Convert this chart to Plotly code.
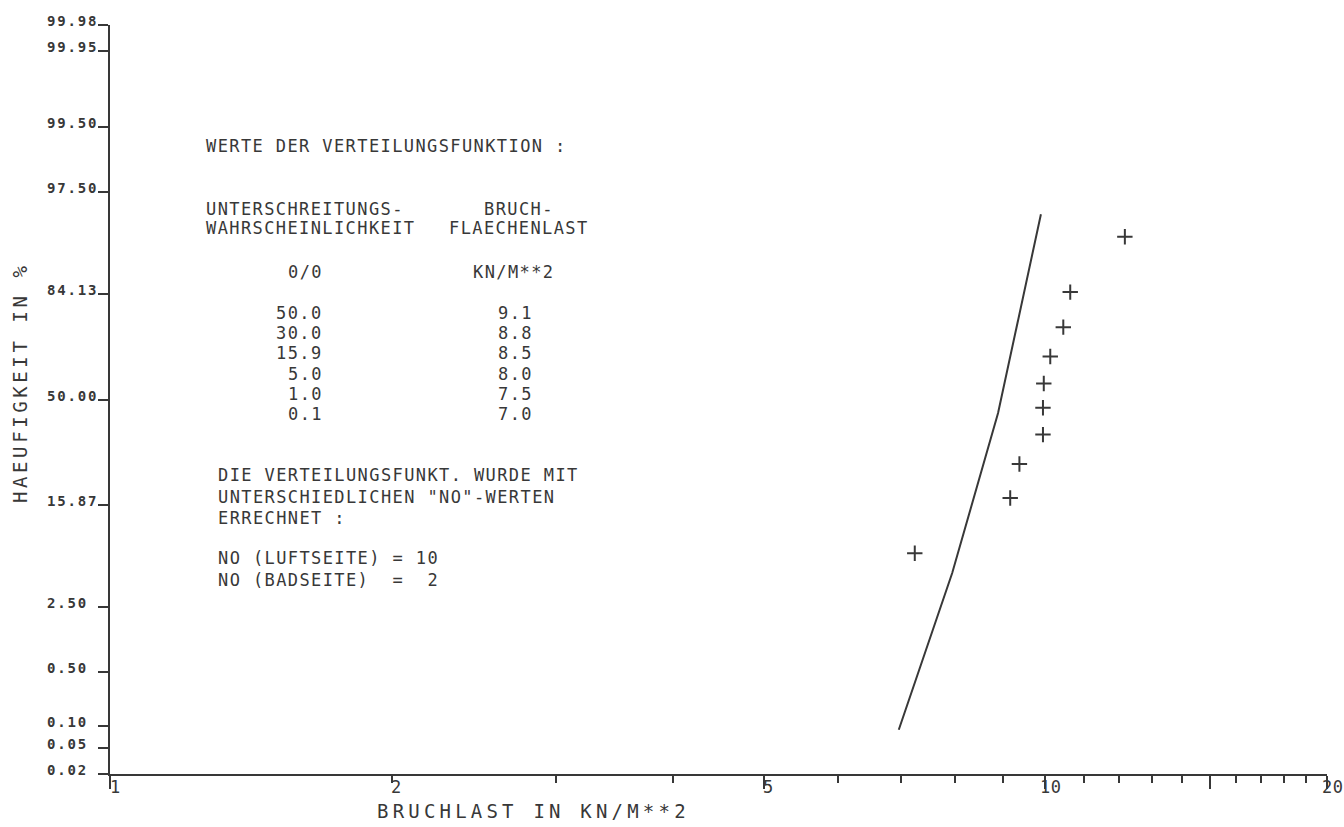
import math
from statistics import NormalDist
import plotly.graph_objects as go

# ---------------- data ----------------
# fitted distribution line (Bruchlast KN/M**2, probability %)
line_load = [6.97, 7.95, 8.90, 9.89]
line_prob = [0.09, 5.05, 44.9, 96.0]

# measured points (+)
pt_load = [7.25, 9.17, 9.38, 9.94, 9.94, 9.96, 10.12, 10.45, 10.63, 12.16]
pt_prob = [7.3, 17.6, 27.1, 37.0, 46.9, 56.0, 65.8, 75.3, 84.5, 93.8]

# axis ticks
y_tick_labels = ["0.02", "0.05", "0.10", "0.50", "2.50", "15.87",
                 "50.00", "84.13", "97.50", "99.50", "99.95", "99.98"]
x_major = [1, 5, 10, 15, 20]
x_minor = [2, 3, 4, 6, 7, 8, 9, 11, 12, 13, 14, 16, 17, 18, 19]
x_tick_labels = {1: "1", 2: "2", 5: "5", 10: "10", 20: "20"}

# table in the chart
table_prob = ["50.0", "30.0", "15.9", "5.0", "1.0", "0.1"]
table_load = ["9.1", "8.8", "8.5", "8.0", "7.5", "7.0"]
no_luft = 10
no_bad = 2

# ---------------- helpers ----------------
nd = NormalDist()
def z(p_percent):
    return nd.inv_cdf(p_percent / 100.0)

ink = "#383838"
mono = "DejaVu Sans Mono"
W, H = 1344, 827
L, R, T, B = 110, 17, 25, 53
NB = "\u00a0"

def sp(text, s):
    return f'<span style="letter-spacing:{s}px">{text}</span>'

annotations = []

def text_at(text, xpix, ypix, anchor="left", size=17, spacing=1.4, bold=False, angle=0):
    annotations.append(dict(
        text=sp(text.replace(" ", NB), spacing), xref="paper", yref="paper", x=0, y=1,
        xshift=xpix - L, yshift=-(ypix - T), xanchor=anchor, yanchor="middle",
        showarrow=False, textangle=angle, borderpad=0,
        font=dict(family=mono, size=size, color=ink, weight="bold" if bold else "normal")))

# ---------------- figure ----------------
fig = go.Figure()
fig.add_trace(go.Scatter(
    x=line_load, y=[z(p) for p in line_prob], mode="lines",
    line=dict(color=ink, width=2), hoverinfo="skip", showlegend=False))
fig.add_trace(go.Scatter(
    x=pt_load, y=[z(p) for p in pt_prob], mode="markers",
    marker=dict(symbol="cross-thin", size=11, line=dict(width=2, color=ink), color=ink),
    showlegend=False))

# y tick labels (left aligned, sitting on the tick)
for lab in y_tick_labels:
    annotations.append(dict(
        text=sp(lab, 1.8), xref="paper", yref="y", x=0, y=z(float(lab)),
        xshift=-64, yshift=4, xanchor="left", yanchor="middle", showarrow=False, borderpad=0,
        font=dict(family=mono, size=14, color=ink, weight="bold")))

# x tick labels
for v, lab in x_tick_labels.items():
    annotations.append(dict(
        text=sp(lab, 0.5), xref="x", yref="paper", x=math.log10(v), y=0,
        xshift=5, yshift=-13, xanchor="center", yanchor="middle", showarrow=False, borderpad=0,
        font=dict(family=mono, size=17, color=ink)))

# axis titles
text_at("BRUCHLAST IN KN/M**2", 533, 811, anchor="center", size=19, spacing=4.2)
annotations.append(dict(
    text=sp("HAEUFIGKEIT IN %".replace(" ", NB), 3.6), xref="paper", yref="paper", x=0, y=1,
    xshift=20 - L, yshift=-(383 - T), xanchor="center", yanchor="middle",
    showarrow=False, textangle=-90, borderpad=0,
    font=dict(family=mono, size=19, color=ink)))

# text block
text_at("WERTE DER VERTEILUNGSFUNKTION :", 205, 146)
text_at("UNTERSCHREITUNGS-", 205, 209)
text_at("WAHRSCHEINLICHKEIT", 205, 228)
text_at("BRUCH-", 483, 209)
text_at("FLAECHENLAST", 448, 228)
text_at("0/0", 324, 272, anchor="right")
text_at("KN/M**2", 472, 272)
for i, (pv, lv) in enumerate(zip(table_prob, table_load)):
    yy = 312.7 + 20.3 * i
    text_at(pv, 324, yy, anchor="right")
    text_at(lv, 497, yy)

text_at("DIE VERTEILUNGSFUNKT. WURDE MIT", 217, 475)
text_at('UNTERSCHIEDLICHEN "NO"-WERTEN', 217, 497)
text_at("ERRECHNET :", 217, 518)
text_at(f"NO (LUFTSEITE) = {no_luft}", 217, 558)
text_at(f"NO (BADSEITE)  =  {no_bad}", 217, 580)

fig.update_layout(
    width=W, height=H,
    margin=dict(l=L, r=R, t=T, b=B, pad=0),
    paper_bgcolor="white", plot_bgcolor="white",
    showlegend=False,
    annotations=annotations,
    xaxis=dict(
        type="log", range=[0, math.log10(20)],
        showline=True, linecolor=ink, linewidth=2,
        tickmode="array", tickvals=x_major, ticks="outside", ticklen=13,
        tickwidth=1.5, tickcolor=ink, showticklabels=False,
        showgrid=False, zeroline=False,
        minor=dict(tickmode="array", tickvals=x_minor, ticks="outside", ticklen=7,
                   tickwidth=1.5, tickcolor=ink, showgrid=False),
    ),
    yaxis=dict(
        range=[z(float(y_tick_labels[0])), z(float(y_tick_labels[-1]))],
        showline=True, linecolor=ink, linewidth=2,
        tickmode="array", tickvals=[z(float(s)) for s in y_tick_labels],
        ticks="outside", ticklen=10, tickwidth=1.5, tickcolor=ink,
        showticklabels=False, showgrid=False, zeroline=False,
    ),
)

fig.write_html("out.html", config={"displayModeBar": False},
               post_script="document.body.style.margin='0';document.body.style.overflow='hidden';")
